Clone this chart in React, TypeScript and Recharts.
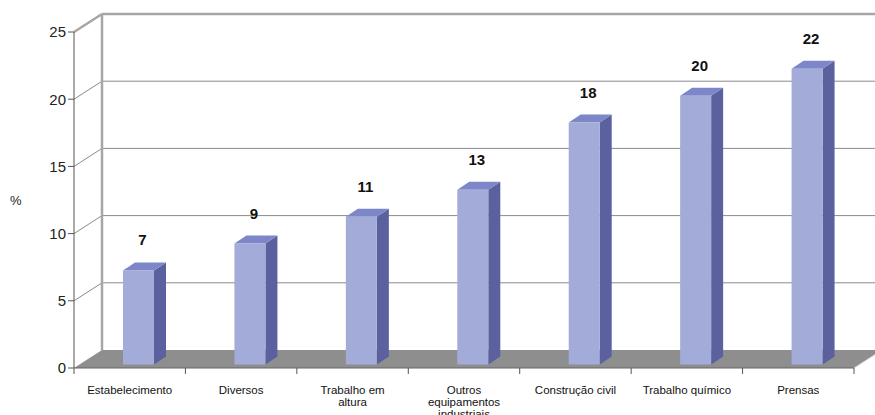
import { Bar, BarChart, CartesianGrid, LabelList, XAxis, YAxis } from "recharts"

const categories = [
  "Estabelecimento",
  "Diversos",
  "Trabalho em\naltura",
  "Outros\nequipamentos\nindustriais",
  "Construção civil",
  "Trabalho químico",
  "Prensas",
]
const percentages = [7, 9, 11, 13, 18, 20, 22]
const yTicks = [0, 5, 10, 15, 20, 25]

const data = categories.map((name, i) => ({ name, value: percentages[i] }))

const W = 875
const H = 415
const MARGIN = { top: 32, right: 21, left: 0, bottom: 0 }
const Y_AXIS_W = 74
const X_AXIS_H = 47
const PLOT_TOP = MARGIN.top
const PLOT_BOTTOM = H - MARGIN.bottom - X_AXIS_H

const FONT = "'Liberation Sans', Arial, sans-serif"

// shift from the front plane to the back wall
const DX = 28
const DY = -18
// bars sit a little into the floor, with their own depth
const BAR_DX = 9
const BAR_DY = -3.5
const BAR_DEPTH_X = 12
const BAR_DEPTH_Y = -8

const FLOOR = "#8e8e8e"
const WALL_EDGE = "#a6a6a6"
const GRID = "#8a8a8a"
const FRONT = "#a3acd9"
const SIDE = "#5a619e"
const TOP = "#7c86c8"

// each horizontal grid line becomes a diagonal on the side wall plus a line on the back wall
function GridLine(props: any) {
  const { x1, x2, y1 } = props
  const bx = x1 + DX
  const by = y1 + DY
  const farX = x2 + DX + 40

  if (Math.abs(y1 - PLOT_BOTTOM) < 1) {
    const n = categories.length
    const step = (x2 - x1) / n
    return (
      <g>
        <polygon
          points={`${x1},${y1} ${x2},${y1} ${x2 + DX},${by} ${bx},${by}`}
          fill={FLOOR}
        />
        <line x1={x2} y1={y1} x2={x2 + DX} y2={by} stroke="#d0d0d0" strokeWidth={1} />
        <line x1={x1} y1={y1} x2={x2} y2={y1} stroke="#666" strokeWidth={1} />
        {Array.from({ length: n + 1 }, (_, i) => (
          <line
            key={i}
            x1={x1 + i * step}
            y1={y1}
            x2={x1 + i * step}
            y2={y1 + 6}
            stroke="#555"
            strokeWidth={1}
          />
        ))}
      </g>
    )
  }

  if (Math.abs(y1 - PLOT_TOP) < 1) {
    return (
      <g>
        <line x1={bx} y1={by} x2={bx} y2={PLOT_BOTTOM + DY} stroke={WALL_EDGE} strokeWidth={2.5} />
        <line x1={x1} y1={y1} x2={bx} y2={by} stroke={WALL_EDGE} strokeWidth={2.5} />
        <line x1={bx} y1={by} x2={farX} y2={by} stroke={WALL_EDGE} strokeWidth={2.5} />
      </g>
    )
  }

  return (
    <g>
      <line x1={x1} y1={y1} x2={bx} y2={by} stroke={GRID} strokeWidth={1} />
      <line x1={bx} y1={by} x2={farX} y2={by} stroke={GRID} strokeWidth={1} />
    </g>
  )
}

function Bar3D(props: any) {
  const { x, y, width, height } = props
  const fx = x + BAR_DX
  const fy = y + BAR_DY
  const r = fx + width
  const b = fy + height
  return (
    <g>
      <polygon
        points={`${r},${fy} ${r + BAR_DEPTH_X},${fy + BAR_DEPTH_Y} ${r + BAR_DEPTH_X},${b + BAR_DEPTH_Y} ${r},${b}`}
        fill={SIDE}
      />
      <polygon
        points={`${fx},${fy} ${r},${fy} ${r + BAR_DEPTH_X},${fy + BAR_DEPTH_Y} ${fx + BAR_DEPTH_X},${fy + BAR_DEPTH_Y}`}
        fill={TOP}
      />
      <rect x={fx} y={fy} width={width} height={height} fill={FRONT} />
    </g>
  )
}

function ValueLabel(props: any) {
  const { x, y, width, value } = props
  return (
    <text
      x={x + width / 2 + BAR_DX + 4}
      y={y + BAR_DY - 25}
      textAnchor="middle"
      fontSize={15}
      fontWeight="bold"
      fontFamily={FONT}
      fill="#111"
    >
      {value}
    </text>
  )
}

function CategoryTick({ x, payload }: any) {
  const lines = String(payload.value).split("\n")
  return (
    <text x={x} y={PLOT_BOTTOM + 26} textAnchor="middle" fontSize={11.5} fontFamily={FONT} fill="#111">
      {lines.map((line, i) => (
        <tspan key={i} x={x} dy={i === 0 ? 0 : 12}>
          {line}
        </tspan>
      ))}
    </text>
  )
}

export default function App() {
  return (
    <div style={{ position: "fixed", left: 0, top: 0, background: "#fff" }}>
      <BarChart width={W} height={H} data={data} margin={MARGIN} barSize={31}>
        <CartesianGrid horizontal={GridLine} vertical={false} />
        <XAxis
          dataKey="name"
          height={X_AXIS_H}
          axisLine={false}
          tickLine={false}
          interval={0}
          tick={<CategoryTick />}
        />
        <YAxis
          width={Y_AXIS_W}
          domain={[0, 25]}
          ticks={yTicks}
          interval={0}
          axisLine={{ stroke: "#555" }}
          tickLine={{ stroke: "#555" }}
          tick={{ fontSize: 15, fill: "#222", fontFamily: FONT }}
          label={{
            value: "%",
            position: "insideLeft",
            offset: 10,
            style: { fontSize: 13, fill: "#222", fontFamily: FONT },
          }}
        />
        <Bar dataKey="value" shape={<Bar3D />} isAnimationActive={false}>
          <LabelList dataKey="value" content={<ValueLabel />} />
        </Bar>
      </BarChart>
    </div>
  )
}
